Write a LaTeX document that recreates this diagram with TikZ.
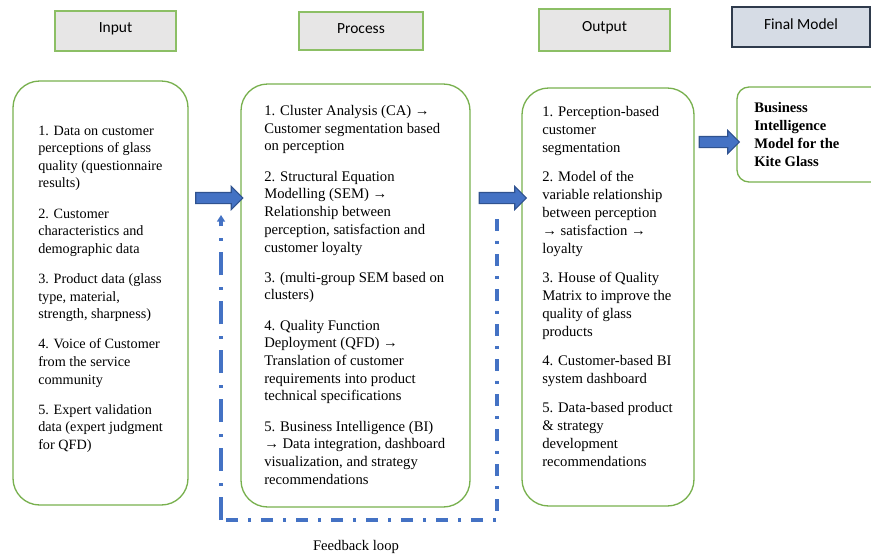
\documentclass[tikz,border=0pt]{standalone}
\usepackage{fontspec}
\setmainfont{Liberation Serif}
\newfontfamily\headfont{Carlito}
\usetikzlibrary{shapes.arrows,arrows.meta}

\definecolor{boxgreen}{HTML}{78B04E}
\definecolor{hdgreen}{HTML}{8CBF65}
\definecolor{hdgray}{HTML}{E7E6E6}
\definecolor{hdblue}{HTML}{D6DCE5}
\definecolor{hdnavy}{HTML}{2F3B4C}
\definecolor{flowblue}{HTML}{4472C4}
\definecolor{flowedge}{HTML}{2F528F}

% one printed line of a column
\newcommand\rowline[1]{\hbox{#1}}
% a column of lines: font size, line spacing, extra gap between items, lines
\newcommand\textcol[4]{\vtop{\fontsize{#1}{#2}\selectfont
  \lineskiplimit=-20pt\relax\def\itemgap{\vskip #3\relax}#4}}

\tikzset{
  header/.style={draw=hdgreen, fill=hdgray, line width=1.2pt, inner sep=0pt},
  headtext/.style={font=\headfont\fontsize{11.6}{14}\selectfont, anchor=base, inner sep=0pt},
  column/.style={draw=boxgreen, line width=1pt, rounded corners=20pt, inner sep=0pt},
  coltext/.style={anchor=base west, inner sep=0pt},
  blockarrow/.style={single arrow, draw=flowedge, fill=flowblue, line width=0.8pt,
    inner xsep=0pt, inner ysep=3.75pt, minimum height=35.25pt,
    single arrow head extend=4.5pt},
  fbline/.style={draw=flowblue, line width=2.7pt}
}

\begin{document}
\begin{tikzpicture}[x=0.75pt, y=-0.75pt]
\useasboundingbox (0,0) rectangle (871,554);

% stage headers
\node[header, minimum width=90.75pt, minimum height=30pt] (hin) at (115.5,31) {};
\node[headtext] (hinT) at (115.5,32) {Input};
\node[header, minimum width=93pt, minimum height=28.5pt] (hproc) at (361,31) {};
\node[headtext] (hprocT) at (361,33) {Process};
\node[header, minimum width=98.25pt, minimum height=31.5pt] (hout) at (604.5,30) {};
\node[headtext] (houtT) at (604.5,31) {Output};
\node[header, draw=hdnavy, fill=hdblue, minimum width=103.5pt, minimum height=30pt] (hfin) at (801,27) {};
\node[headtext] (hfinT) at (801,29) {Final Model};

% main columns
\node[column, minimum width=131.25pt, minimum height=318pt] (inbox) at (100.5,293) {};
\node[column, minimum width=171.75pt, minimum height=317.25pt] (procbox) at (355.5,295.5) {};
\node[column, minimum width=129pt, minimum height=313.5pt] (outbox) at (608,297) {};
\node[column, rounded corners=9pt, minimum width=111pt, minimum height=71.25pt] (finbox) at (811,134.5) {};

% column contents
\node[coltext] (intext) at (38,135) {\textcol{10.65}{13.2}{9.45pt}{%
  \rowline{1. Data on customer}\rowline{perceptions of glass}
  \rowline{quality (questionnaire}\rowline{results)}\itemgap
  \rowline{2. Customer}\rowline{characteristics and}\rowline{demographic data}\itemgap
  \rowline{3. Product data (glass}\rowline{type, material,}\rowline{strength, sharpness)}\itemgap
  \rowline{4. Voice of Customer}\rowline{from the service}\rowline{community}\itemgap
  \rowline{5. Expert validation}\rowline{data (expert judgment}\rowline{for QFD)}}};

\node[coltext] (proctext) at (264,115.5) {\textcol{11}{13.3}{9.3pt}{%
  \rowline{1. Cluster Analysis (CA) →}\rowline{Customer segmentation based}
  \rowline{on perception}\itemgap
  \rowline{2. Structural Equation}\rowline{Modelling (SEM) →}\rowline{Relationship between}
  \rowline{perception, satisfaction and}\rowline{customer loyalty}\itemgap
  \rowline{3. (multi-group SEM based on}\rowline{clusters)}\itemgap
  \rowline{4. Quality Function}\rowline{Deployment (QFD) →}\rowline{Translation of customer}
  \rowline{requirements into product}\rowline{technical specifications}\itemgap
  \rowline{5. Business Intelligence (BI)}\rowline{→ Data integration, dashboard}
  \rowline{visualization, and strategy}\rowline{recommendations}}};

\node[coltext] (outtext) at (542,116.5) {\textcol{11}{13.5}{8.25pt}{%
  \rowline{1. Perception-based}\rowline{customer}\rowline{segmentation}\itemgap
  \rowline{2. Model of the}\rowline{variable relationship}\rowline{between perception}
  \rowline{→ satisfaction →}\rowline{loyalty}\itemgap
  \rowline{3. House of Quality}\rowline{Matrix to improve the}\rowline{quality of glass}
  \rowline{products}\itemgap
  \rowline{4. Customer-based BI}\rowline{system dashboard}\itemgap
  \rowline{5. Data-based product}\rowline{\& strategy}\rowline{development}
  \rowline{recommendations}}};

\node[coltext] (fintext) at (754,112.5) {\textcol{10.95}{13.4}{0pt}{\bfseries
  \rowline{Business}\rowline{Intelligence}\rowline{Model for the}\rowline{Kite Glass}}};

% flow arrows between the columns
\node[blockarrow] (a1) at (216.5,198) {};
\node[blockarrow] (a2) at (500,198) {};
\node[blockarrow, minimum height=30pt] (a3) at (716.5,142) {};

% feedback loop from output back to process
\coordinate (fbtop) at (497,219);
\coordinate (fbbr) at (497,520);
\coordinate (fbbl) at (221,520);
\coordinate (fbend) at (221,215);
\draw[fbline, dash pattern=on 9pt off 7.5pt on 2.25pt off 7.5pt] (fbtop) -- (fbbr) -- (fbbl);
\draw[fbline, dash pattern=on 17.25pt off 8.6pt on 2.25pt off 8.6pt,
  -{Triangle[length=5pt,width=6pt]}] (fbbl) -- (fbend);
\node[anchor=base, inner sep=0pt, font=\fontsize{11}{13}\selectfont] (fblabel) at (356,550) {Feedback loop};
\end{tikzpicture}
\end{document}
